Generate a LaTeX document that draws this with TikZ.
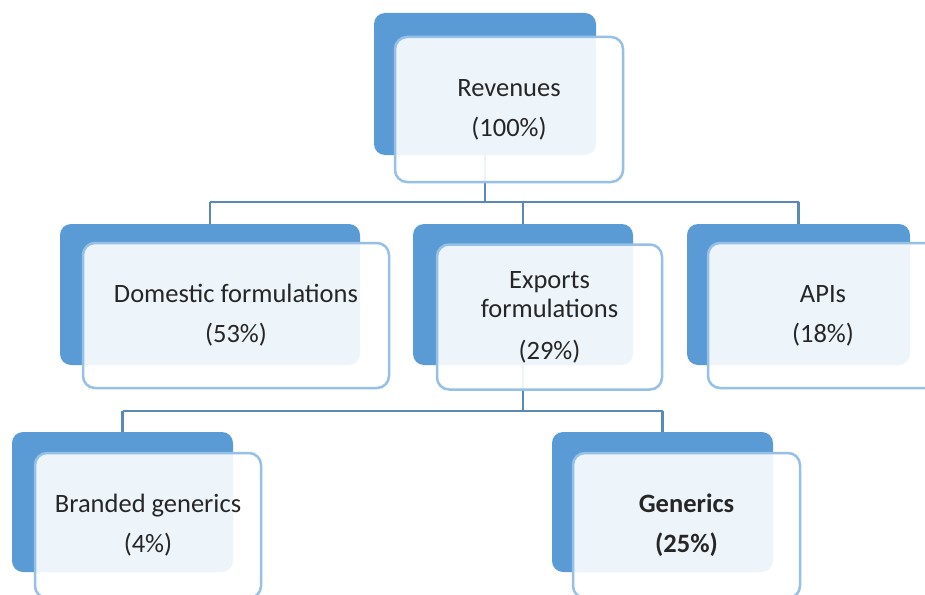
\documentclass[tikz,border=0pt]{standalone}
\usepackage{fontspec}
\setmainfont{Carlito}
\definecolor{boxblue}{RGB}{91,155,213}
\definecolor{edgeblue}{RGB}{150,192,232}
\definecolor{lineblue}{RGB}{88,138,180}
\definecolor{txt}{RGB}{38,38,38}
\tikzset{
  backbox/.style={draw=none, fill=boxblue, rounded corners=11pt, inner sep=0pt},
  frontbox/.style={draw=edgeblue, line width=2.5pt, fill=white, fill opacity=0.9, text opacity=1,
    rounded corners=12pt, inner sep=0pt, align=center, text=txt,
    font=\fontsize{26.5}{29}\selectfont},
  conn/.style={draw=lineblue, line width=2.8pt}
}
\begin{document}
\begin{tikzpicture}[x=1pt,y=-1pt]
\useasboundingbox (0,0) rectangle (925,594);
\clip (0,0) rectangle (925,594);
\fill[white] (0,0) rectangle (925,594);
% level lines
\coordinate (h1) at (0,202);
\coordinate (h2) at (0,411);
% back boxes
\node[backbox, minimum width=222pt, minimum height=142pt] (revB) at (485,84) {};
\node[backbox, minimum width=300pt, minimum height=141pt] (domB) at (210,294.5) {};
\node[backbox, minimum width=220pt, minimum height=141pt] (expB) at (523,294.5) {};
\node[backbox, minimum width=223pt, minimum height=141pt] (apiB) at (798.5,294.5) {};
\node[backbox, minimum width=221pt, minimum height=140pt] (braB) at (122.5,502) {};
\node[backbox, minimum width=221pt, minimum height=140pt] (genB) at (662.5,502) {};
% connectors
\draw[conn] (revB.south) -- (revB |- h1);
\draw[conn] (domB |- h1) -- (apiB |- h1);
\draw[conn] (domB |- h1) -- (domB.north);
\draw[conn] (expB |- h1) -- (expB.north);
\draw[conn] (apiB |- h1) -- (apiB.north);
\draw[conn] (expB.south) -- (expB |- h2);
\draw[conn] (braB |- h2) -- (genB |- h2);
\draw[conn] (braB |- h2) -- (braB.north);
\draw[conn] (genB |- h2) -- (genB.north);
% front boxes
\node[frontbox, minimum width=228pt, minimum height=145pt] (rev) at (509,109.5) {Revenues\\[11pt](100\%)};
\node[frontbox, minimum width=306pt, minimum height=145pt] (dom) at (236,315.5) {Domestic formulations\\[11pt](53\%)};
\node[frontbox, minimum width=225pt, minimum height=145pt] (exp) at (549.5,317) {Exports\\formulations\\[13pt](29\%)};
\node[frontbox, minimum width=230pt, minimum height=145pt] (api) at (823,315.5) {APIs\\[11pt](18\%)};
\node[frontbox, minimum width=226pt, minimum height=145pt] (bra) at (148,525.5) {Branded generics\\[11pt](4\%)};
\node[frontbox, minimum width=227pt, minimum height=145pt, font=\fontsize{26.5}{29}\selectfont\bfseries] (gen) at (686.5,525.5) {Generics\\[11pt](25\%)};
\end{tikzpicture}
\end{document}
